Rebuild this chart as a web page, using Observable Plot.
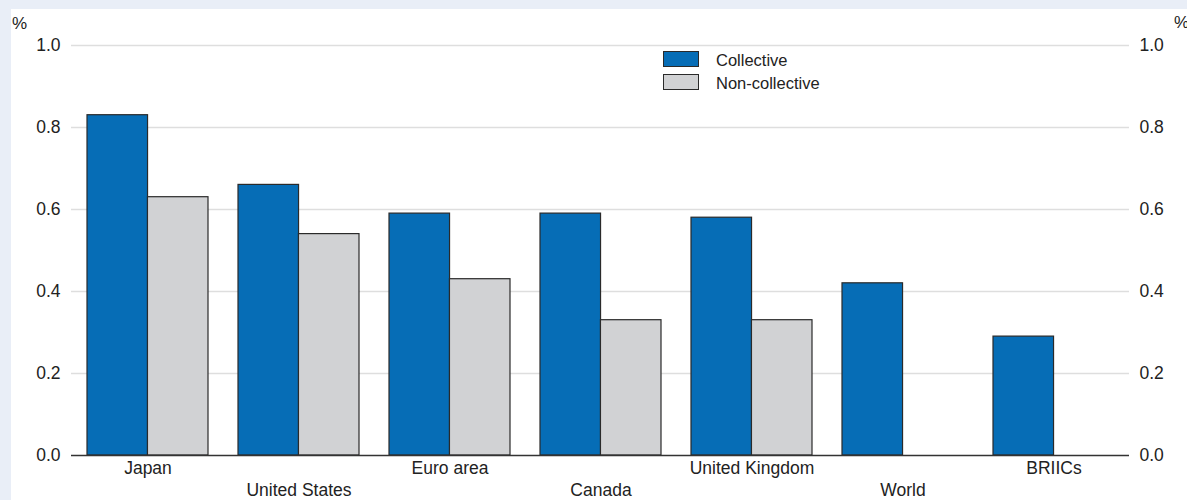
<!DOCTYPE html>
<html>
<head>
<meta charset="utf-8">
<script src="https://cdn.jsdelivr.net/npm/d3@7"></script>
<script src="https://cdn.jsdelivr.net/npm/@observablehq/plot@0.6"></script>
<style>
  html, body { margin: 0; padding: 0; }
  body { width: 1187px; height: 500px; background: #e9eef7; position: relative; overflow: hidden;
         font-family: "Liberation Sans", Arial, sans-serif; color: #222; }
  #panel { position: absolute; left: 11px; top: 9px; width: 1176px; height: 491px; background: #fff; }
  #chart { position: absolute; left: 0; top: 0; }
  .unit { position: absolute; font-size: 17px; line-height: 17px; }
  .legend { position: absolute; left: 652px; top: 42px; font-size: 16.5px; }
  .legend .row { position: absolute; left: 0; height: 16px; white-space: nowrap; }
  .legend .sw { position: absolute; left: 0; top: 0; width: 34px; height: 14px; border: 1px solid #2a2a2a; }
  .legend .lbl { position: absolute; left: 53px; top: 1px; line-height: 16px; }
</style>
</head>
<body>
<div id="panel">
  <div id="chart"></div>
  <div class="unit" style="left:1px; top:6px;">%</div>
  <div class="unit" style="left:1163px; top:5px;">%</div>
  <div class="legend" id="legend"></div>
</div>
<script>
const countries = ["Japan", "United States", "Euro area", "Canada", "United Kingdom", "World", "BRIICs"];
const collective = [0.83, 0.66, 0.59, 0.59, 0.58, 0.42, 0.29];
const nonCollective = [0.63, 0.54, 0.43, 0.33, 0.33, null, null];
const seriesNames = ["Collective", "Non-collective"];
const seriesColors = ["#066db6", "#d1d2d4"];
const yTicks = [0, 0.2, 0.4, 0.6, 0.8, 1.0];

const W = 1176, H = 491, mL = 60, mR = 58, mT = 36, mB = 45;
const padInner = 0.2, padOuter = 0.1;
const step = (W - mL - mR) / (countries.length - padInner + 2 * padOuter);
const half = step * (1 - padInner) / 2;

const colData = countries.map((c, i) => ({country: c, value: collective[i]}));
const nonData = countries.map((c, i) => ({country: c, value: nonCollective[i]})).filter(d => d.value != null);
const evenLabels = countries.filter((c, i) => i % 2 === 0);
const oddLabels = countries.filter((c, i) => i % 2 === 1);

const font = "Liberation Sans, Arial, sans-serif";
const fs = 17.5;
const chart = Plot.plot({
  width: W, height: H,
  marginLeft: mL, marginRight: mR, marginTop: mT, marginBottom: mB,
  style: {fontFamily: font, fontSize: fs + "px", color: "#222", background: "transparent"},
  x: {domain: countries, paddingInner: padInner, paddingOuter: padOuter, axis: null},
  y: {domain: [0, 1], axis: null},
  marks: [
    Plot.gridY(yTicks.filter(d => d > 0), {stroke: "#dedede", strokeOpacity: 1, strokeWidth: 1.5}),
    Plot.barY(colData, {x: "country", y: "value", fill: seriesColors[0], stroke: "#2a2a2a", strokeWidth: 1.2, insetRight: half}),
    Plot.barY(nonData, {x: "country", y: "value", fill: seriesColors[1], stroke: "#2a2a2a", strokeWidth: 1.2, insetLeft: half}),
    Plot.ruleY([0], {stroke: "#333", strokeWidth: 1.7}),
    Plot.axisY(yTicks, {anchor: "left", tickSize: 0, tickPadding: 11, tickFormat: d3.format(".1f"), label: null, fontSize: fs, fill: "#222"}),
    Plot.axisY(yTicks, {anchor: "right", tickSize: 0, tickPadding: 10, tickFormat: d3.format(".1f"), label: null, fontSize: fs, fill: "#222"}),
    Plot.axisX(evenLabels, {anchor: "bottom", tickSize: 0, tickPadding: 6, label: null, fontSize: fs, fill: "#222"}),
    Plot.axisX(oddLabels, {anchor: "bottom", tickSize: 0, tickPadding: 28, label: null, fontSize: fs, fill: "#222"})
  ]
});
document.getElementById("chart").appendChild(chart);

const legend = document.getElementById("legend");
seriesNames.forEach((name, i) => {
  const row = document.createElement("div");
  row.className = "row";
  row.style.top = (i * 22.5) + "px";
  const sw = document.createElement("div");
  sw.className = "sw";
  sw.style.background = seriesColors[i];
  const lbl = document.createElement("div");
  lbl.className = "lbl";
  lbl.textContent = name;
  row.appendChild(sw);
  row.appendChild(lbl);
  legend.appendChild(row);
});
</script>
</body>
</html>
